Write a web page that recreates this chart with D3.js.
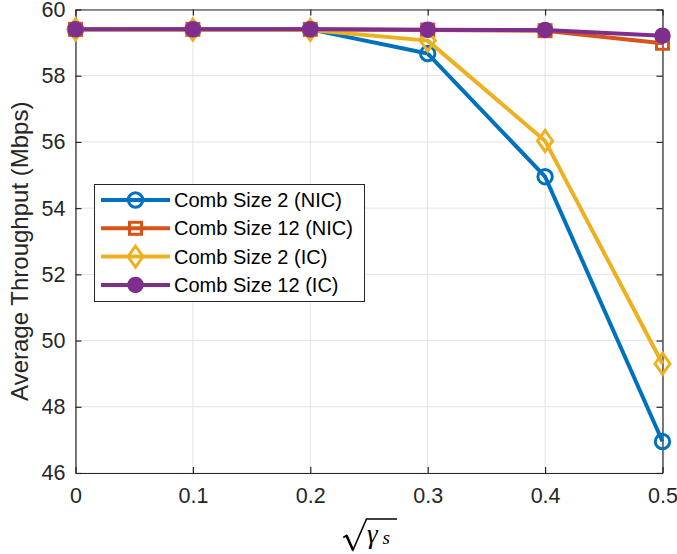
<!DOCTYPE html>
<html>
<head>
<meta charset="utf-8">
<script src="https://cdn.jsdelivr.net/npm/d3@7"></script>
<style>
  body { margin: 0; background: #fff; }
  svg { display: block; font-family: "Liberation Sans", Arial, sans-serif; }
</style>
</head>
<body>
<div id="chart"></div>
<script>
// ========== DATA ==========
const xValues = [0, 0.1, 0.2, 0.3, 0.4, 0.5];
const comb2NIC = [59.4, 59.4, 59.4, 58.67, 54.95, 46.95];
const comb12NIC = [59.4, 59.4, 59.4, 59.38, 59.36, 58.98];
const comb2IC = [59.4, 59.39, 59.38, 59.06, 56.03, 49.3];
const comb12IC = [59.4, 59.4, 59.4, 59.39, 59.38, 59.21];
const seriesNames = ["Comb Size 2 (NIC)", "Comb Size 12 (NIC)", "Comb Size 2 (IC)", "Comb Size 12 (IC)"];
const xTicks = [0, 0.1, 0.2, 0.3, 0.4, 0.5];
const yTicks = [46, 48, 50, 52, 54, 56, 58, 60];

const series = [
  { name: seriesNames[0], values: comb2NIC, color: "#0072BD", marker: "circle" },
  { name: seriesNames[1], values: comb12NIC, color: "#D95319", marker: "square" },
  { name: seriesNames[2], values: comb2IC, color: "#EDB120", marker: "diamond" },
  { name: seriesNames[3], values: comb12IC, color: "#7E2F8E", marker: "dot" }
];

// ========== LAYOUT ==========
const width = 677, height = 554;
const plot = { left: 75.5, right: 662.5, top: 9.5, bottom: 473 };
const axisColor = "#262626";

const svg = d3.select("#chart").append("svg")
  .attr("width", width)
  .attr("height", height);

const x = d3.scaleLinear().domain([0, 0.5]).range([plot.left, plot.right]);
const y = d3.scaleLinear().domain([46, 60]).range([plot.bottom, plot.top]);

// grid lines
const grid = svg.append("g").attr("class", "grid");
grid.selectAll(".gx").data(xTicks).join("line")
  .attr("x1", d => x(d)).attr("x2", d => x(d))
  .attr("y1", plot.top).attr("y2", plot.bottom)
  .style("stroke", "#e3e3e3").style("stroke-width", 1);
grid.selectAll(".gy").data(yTicks).join("line")
  .attr("x1", plot.left).attr("x2", plot.right)
  .attr("y1", d => y(d)).attr("y2", d => y(d))
  .style("stroke", "#e3e3e3").style("stroke-width", 1);

// axes, ticks pointing inward (box on all four sides)
function styleAxis(g) {
  g.selectAll("path").style("stroke", axisColor).style("stroke-width", 1.2);
  g.selectAll("line").style("stroke", axisColor).style("stroke-width", 1.2);
  g.selectAll("text").style("fill", axisColor).style("font-size", "21.5px")
    .style("font-family", "Liberation Sans, Arial, sans-serif");
}

svg.append("g")
  .attr("transform", `translate(0,${plot.bottom})`)
  .call(d3.axisBottom(x).tickValues(xTicks).tickSizeInner(-6).tickSizeOuter(0).tickPadding(15)
    .tickFormat(d => d === 0 ? "0" : d3.format(".1f")(d)))
  .call(styleAxis);

svg.append("g")
  .attr("transform", `translate(0,${plot.top})`)
  .call(d3.axisTop(x).tickValues(xTicks).tickSizeInner(-6).tickSizeOuter(0).tickFormat(""))
  .call(styleAxis);

svg.append("g")
  .attr("transform", `translate(${plot.left},0)`)
  .call(d3.axisLeft(y).tickValues(yTicks).tickSizeInner(-6).tickSizeOuter(0).tickPadding(10))
  .call(styleAxis);

svg.append("g")
  .attr("transform", `translate(${plot.right},0)`)
  .call(d3.axisRight(y).tickValues(yTicks).tickSizeInner(-6).tickSizeOuter(0).tickFormat(""))
  .call(styleAxis);

// ========== MARKERS ==========
function drawMarker(g, type, color, cx, cy) {
  if (type === "circle") {
    g.append("circle").attr("cx", cx).attr("cy", cy).attr("r", 7.2)
      .style("fill", "none").style("stroke", color).style("stroke-width", 3);
  } else if (type === "square") {
    g.append("rect").attr("x", cx - 6).attr("y", cy - 6).attr("width", 12).attr("height", 12)
      .style("fill", "none").style("stroke", color).style("stroke-width", 3);
  } else if (type === "diamond") {
    g.append("path")
      .attr("d", `M${cx},${cy - 10.5}L${cx + 7.5},${cy}L${cx},${cy + 10.5}L${cx - 7.5},${cy}Z`)
      .style("fill", "none").style("stroke", color).style("stroke-width", 3);
  } else {
    g.append("circle").attr("cx", cx).attr("cy", cy).attr("r", 7.5)
      .style("fill", color).style("stroke", color).style("stroke-width", 1.5);
  }
}

// ========== SERIES ==========
const line = d3.line().x(d => x(d[0])).y(d => y(d[1]));

series.forEach(s => {
  const pts = xValues.map((xv, i) => [xv, s.values[i]]);
  const g = svg.append("g");
  g.append("path").datum(pts).attr("d", line)
    .style("fill", "none").style("stroke", s.color).style("stroke-width", 4)
    .style("stroke-linejoin", "round");
  pts.forEach(p => drawMarker(g, s.marker, s.color, x(p[0]), y(p[1])));
});

// ========== LEGEND ==========
const legend = svg.append("g");
legend.append("rect")
  .attr("x", 94.5).attr("y", 184.5).attr("width", 270).attr("height", 117)
  .style("fill", "#fff").style("stroke", axisColor).style("stroke-width", 1);

series.forEach((s, i) => {
  const ly = 200 + i * 28.3;
  legend.append("line").attr("x1", 101).attr("x2", 170).attr("y1", ly).attr("y2", ly)
    .style("stroke", s.color).style("stroke-width", 4);
  drawMarker(legend, s.marker, s.color, 135.5, ly);
  legend.append("text").attr("x", 174).attr("y", ly).attr("dy", "0.35em")
    .style("font-size", "20px").style("fill", "#000").text(s.name);
});

// ========== AXIS LABELS ==========
svg.append("text")
  .attr("transform", `translate(20,${(plot.top + plot.bottom) / 2 + 10}) rotate(-90)`)
  .attr("text-anchor", "middle").attr("dy", "0.35em")
  .style("font-size", "24px").style("fill", axisColor)
  .text("Average Throughput (Mbps)");

// x label: sqrt(gamma_s)
const xl = svg.append("g");
xl.append("path")
  .attr("d", "M343.3,537.5L346.5,535.5L353,550L366.5,519L397,519")
  .style("fill", "none").style("stroke", "#000").style("stroke-width", 1.6)
  .style("stroke-linejoin", "miter");
xl.append("path")
  .attr("d", "M346.5,535.5L353,550")
  .style("fill", "none").style("stroke", "#000").style("stroke-width", 2.6);
xl.append("text").attr("x", 367).attr("y", 543)
  .style("font-family", "Liberation Serif, serif").style("font-style", "italic")
  .style("font-size", "27px").text("γ");
xl.append("text").attr("x", 382.5).attr("y", 544)
  .style("font-family", "Liberation Serif, serif").style("font-style", "italic")
  .style("font-size", "19px").text("s");
</script>
</body>
</html>
